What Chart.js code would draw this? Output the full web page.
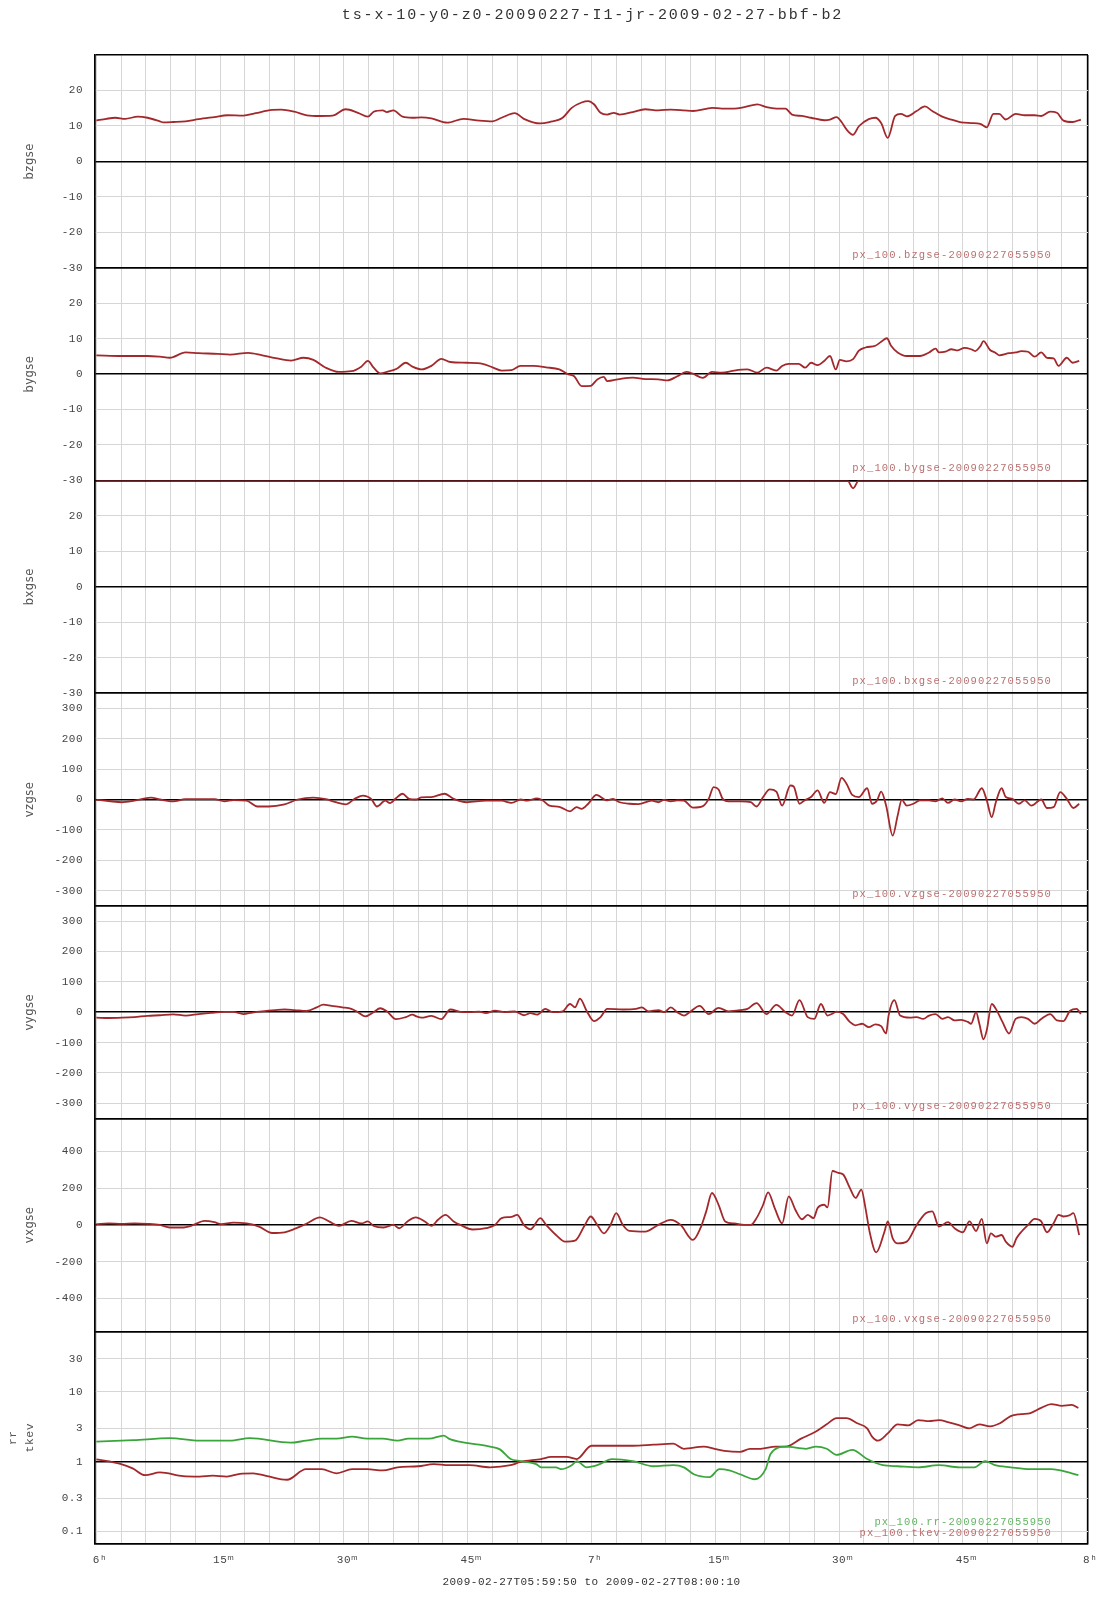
<!DOCTYPE html>
<html><head><meta charset="utf-8">
<script src="https://cdn.jsdelivr.net/npm/chart.js@4/dist/chart.umd.min.js"></script>
<style>html,body{margin:0;padding:0;background:#fff;}#wrap{position:relative;width:1107px;height:1600px;}</style>
</head><body><div id="wrap"><canvas id="c" width="1107" height="1600"></canvas></div>
<script>
// ---- text ----
const titleText = 'ts-x-10-y0-z0-20090227-I1-jr-2009-02-27-bbf-b2';
const footText = '2009-02-27T05:59:50 to 2009-02-27T08:00:10';
const xTickMinutes = [0, 15, 30, 45, 60, 75, 90, 105, 120];
const xTickLabels = [' 6ʰ', ' 15ᵐ', ' 30ᵐ', ' 45ᵐ', ' 7ʰ', ' 15ᵐ', ' 30ᵐ', ' 45ᵐ', ' 8ʰ'];
const panelTitles = ['bzgse', 'bygse', 'bxgse', 'vzgse', 'vygse', 'vxgse', ['rr', 'tkev']];
const bTicks = [-30, -20, -10, 0, 10, 20];
const vTicks = [-300, -200, -100, 0, 100, 200, 300];
const vxTicks = [-400, -200, 0, 200, 400];
const logTicks = [0.1, 0.3, 1, 3, 10, 30];
const logTickLabels = ['0.1', '0.3', '1', '3', '10', '30'];

// ---- data: [minutes after 06:00, value] ----
const bzgse = [[0,11.5],[1.2,12.0],[2.3,12.3],[3.5,12.0],[5.0,12.6],[6.2,12.3],[7.7,11.3],[8.1,11.0],[9.3,11.1],[10.8,11.3],[12.4,11.9],[14.3,12.5],[15.9,13.0],[17.8,12.9],[19.3,13.6],[21.3,14.5],[22.4,14.6],[24.0,14.0],[25.5,13.0],[27.1,12.8],[28.6,12.9],[30.2,14.7],[31.7,13.7],[32.9,12.6],[33.6,14.0],[34.7,14.4],[35.2,13.9],[36.0,14.4],[37.1,12.6],[38.3,12.3],[39.4,12.4],[40.6,12.1],[42.5,10.9],[44.5,12.0],[46.4,11.5],[48.0,11.3],[49.1,12.3],[50.7,13.6],[51.8,12.0],[53.8,10.7],[54.9,11.1],[56.5,12.3],[57.6,15.1],[58.8,16.6],[59.6,17.0],[60.3,16.1],[61.1,13.7],[61.9,13.2],[62.7,13.7],[63.4,13.2],[65.0,13.9],[66.5,14.7],[68.1,14.4],[69.6,14.6],[71.2,14.4],[72.3,14.2],[73.9,14.8],[74.6,15.1],[75.8,14.9],[77.3,14.9],[78.5,15.3],[80.1,16.1],[81.2,15.3],[82.4,14.9],[83.5,14.9],[84.3,13.2],[85.5,12.8],[86.6,12.3],[88.2,11.6],[88.9,11.8],[89.7,12.5],[90.3,11.1],[90.9,9.0],[91.7,7.5],[92.4,9.9],[93.6,11.9],[94.4,12.3],[95.1,10.8],[95.9,6.6],[96.8,12.8],[97.5,13.4],[98.2,12.7],[99.4,14.2],[100.4,15.5],[101.3,14.2],[102.5,12.6],[103.6,11.8],[104.8,11.0],[106.0,10.8],[107.1,10.6],[107.9,9.6],[108.7,13.4],[109.4,13.4],[110.2,11.8],[111.4,13.4],[112.5,13.0],[113.7,13.0],[114.5,12.8],[115.6,14.0],[116.4,13.7],[117.2,11.5],[118.3,11.1],[119.3,11.8]];
const bygse = [[0,5.3],[3.1,5.1],[6.2,5.1],[7.7,4.9],[8.9,4.6],[10.8,6.1],[12.4,5.9],[14.7,5.7],[16.2,5.5],[18.4,6.0],[20.1,5.3],[21.7,4.5],[23.6,3.8],[25.1,4.6],[26.3,4.0],[27.8,1.8],[29.4,0.6],[30.9,0.8],[32.1,2.1],[32.9,3.7],[33.6,1.8],[34.4,0.2],[35.2,0.6],[36.4,1.5],[37.5,3.2],[38.3,2.1],[39.4,1.3],[40.6,2.3],[41.8,4.3],[42.9,3.4],[44.9,3.2],[46.8,2.9],[48.0,1.9],[49.1,1.0],[50.3,1.1],[51.4,2.3],[53.0,2.3],[54.5,1.9],[56.1,1.3],[57.2,-0.1],[57.9,-0.6],[58.8,-3.4],[59.9,-3.3],[60.7,-1.5],[61.5,-0.8],[61.9,-2.0],[63.4,-1.4],[65.0,-1.0],[66.5,-1.4],[68.1,-1.5],[69.2,-1.8],[70.4,-0.6],[71.5,0.6],[72.3,0.1],[73.5,-1.1],[74.6,0.6],[75.8,0.4],[77.3,1.0],[78.9,1.3],[80.1,0.4],[81.2,1.8],[82.4,1.0],[83.1,2.3],[83.9,2.9],[85.1,2.9],[85.9,1.8],[86.6,3.2],[87.4,2.5],[88.2,3.7],[88.9,5.1],[89.6,1.3],[90.1,4.0],[90.9,3.6],[91.7,4.2],[92.4,6.6],[93.2,7.5],[94.4,8.0],[95.1,9.1],[95.8,10.1],[96.3,8.0],[97.1,6.1],[98.2,5.1],[99.8,5.1],[100.9,6.1],[101.7,7.2],[102.1,6.1],[102.9,6.3],[103.6,7.0],[104.4,6.7],[105.2,7.4],[106.0,7.0],[106.5,6.5],[107.1,7.8],[107.5,9.3],[108.3,6.8],[108.9,6.1],[109.4,5.3],[110.6,5.9],[111.4,6.1],[112.1,6.5],[112.9,6.3],[113.7,4.9],[114.5,6.1],[115.2,4.6],[116.0,4.4],[116.6,2.3],[117.6,4.6],[118.3,3.2],[119.1,3.7]];
const bxgse = [[0,30],[91.0,30],[91.7,27.8],[92.4,30],[119.3,30]];
const vzgse = [[0,-1],[1.5,-5],[3.1,-9],[4.6,-4],[6.6,6],[7.7,0],[9.3,-6],[10.8,1],[12.4,1],[14.3,1],[15.5,-6],[16.6,-2],[18.2,-4],[19.5,-23],[20.9,-23],[22.8,-16],[24.4,0],[26.3,6],[27.8,1],[29.0,-9],[30.2,-16],[31.3,2],[32.3,13],[33.3,2],[34.0,-23],[35.0,-4],[35.6,-12],[36.3,4],[37.1,19],[37.9,2],[38.7,0],[39.4,7],[40.6,8],[42.2,19],[43.3,2],[44.9,-9],[47.2,-4],[49.1,-4],[50.3,-11],[51.4,0],[52.2,-4],[53.4,4],[54.1,-3],[54.9,-20],[56.1,-24],[57.4,-39],[58.2,-25],[58.8,-31],[59.6,-14],[60.6,15],[61.9,-3],[62.6,2],[63.4,-9],[64.6,-14],[65.7,-15],[67.3,-4],[68.1,-9],[68.8,-1],[69.6,-6],[70.4,-3],[71.2,-4],[72.3,-27],[73.5,-22],[74.2,2],[74.8,41],[75.4,33],[75.9,2],[76.6,-6],[78.1,-6],[79.3,-9],[80.0,-23],[80.8,8],[81.6,33],[82.4,26],[83.1,-20],[84.1,46],[84.5,43],[85.2,-14],[85.8,-3],[86.6,8],[87.4,30],[88.2,-11],[88.9,24],[89.6,18],[90.3,71],[90.9,52],[91.6,15],[92.4,8],[93.4,37],[94.0,-14],[94.6,-3],[95.1,26],[95.7,-20],[96.5,-119],[97.1,-53],[97.6,-1],[98.2,-20],[99.0,-14],[99.8,-3],[100.9,-3],[101.7,-6],[102.5,4],[103.2,-11],[104.0,0],[104.8,-6],[105.6,2],[106.3,0],[107.3,37],[107.9,-3],[108.5,-58],[109.0,-9],[109.7,37],[110.2,8],[111.0,2],[111.8,-14],[112.5,-3],[113.3,-20],[114.5,0],[115.2,-28],[116.0,-25],[116.8,24],[117.6,2],[118.4,-28],[119.1,-14]];
const vygse = [[0,-18],[1.5,-19],[3.1,-18],[4.6,-16],[6.2,-12],[7.7,-10],[9.3,-7],[10.8,-11],[12.4,-6],[13.9,-2],[15.5,1],[16.6,1],[17.8,-6],[18.9,-1],[20.1,3],[21.7,7],[22.8,9],[24.0,7],[25.5,4],[26.7,16],[27.5,25],[28.5,21],[29.8,16],[30.9,11],[31.7,0],[32.6,-14],[33.6,0],[34.4,13],[35.2,3],[36.3,-23],[37.5,-16],[38.3,-8],[38.8,-14],[39.4,-18],[40.6,-12],[41.8,-23],[42.9,9],[44.1,1],[45.2,0],[46.4,2],[47.2,-3],[48.3,5],[49.5,0],[50.7,3],[51.8,-10],[52.6,-3],[53.4,-8],[54.4,11],[55.3,0],[56.5,3],[57.4,27],[58.0,16],[58.6,45],[59.4,5],[60.3,-29],[61.1,-16],[61.9,11],[63.8,9],[65.4,11],[66.1,16],[66.9,3],[68.1,7],[68.8,0],[69.6,16],[70.4,0],[71.2,-11],[71.9,0],[73.1,21],[74.2,-6],[75.4,14],[76.6,3],[78.1,7],[78.9,11],[80.0,30],[81.2,-6],[82.4,24],[83.5,0],[84.3,-11],[85.2,40],[86.2,-16],[87.0,-22],[87.8,27],[88.6,-11],[89.1,-6],[89.7,2],[90.5,-6],[91.3,-32],[92.0,-43],[92.8,-38],[93.6,-49],[94.4,-40],[95.1,-46],[95.7,-70],[96.0,-11],[96.7,40],[97.4,-11],[98.6,-18],[99.4,-16],[100.2,-22],[100.9,-11],[101.7,-6],[102.5,-22],[103.2,-16],[104.0,-27],[104.8,-25],[105.6,-32],[106.0,-38],[106.6,0],[107.0,-38],[107.5,-89],[107.9,-59],[108.5,27],[109.0,11],[109.8,-32],[110.6,-70],[111.4,-22],[112.1,-16],[112.9,-22],[113.7,-38],[114.5,-22],[115.6,-6],[116.4,-27],[117.2,-29],[118.0,5],[118.8,11],[119.3,-6]];
const vxgse = [[0,4],[1.5,8],[3.1,6],[4.6,8],[6.2,6],[7.7,0],[8.9,-14],[10.4,-14],[11.6,-3],[13.1,22],[14.3,15],[15.1,4],[16.6,13],[18.2,8],[19.7,-9],[21.3,-44],[22.8,-40],[24.0,-22],[25.5,8],[27.1,41],[28.2,19],[29.4,-5],[30.9,22],[32.1,8],[32.9,19],[33.6,-5],[34.8,-14],[36.0,0],[36.7,-18],[37.7,19],[38.7,41],[39.8,19],[40.6,-5],[41.4,28],[42.3,55],[43.3,19],[44.1,0],[45.6,-25],[47.2,-18],[48.3,0],[49.1,37],[50.3,44],[51.0,55],[51.8,0],[52.6,-24],[53.8,37],[54.5,0],[55.7,-55],[56.8,-91],[58.0,-86],[59.2,0],[59.9,46],[60.7,0],[61.5,-46],[62.3,0],[63.0,64],[63.8,0],[64.6,-33],[66.5,-37],[68.1,0],[69.6,28],[70.8,0],[72.3,-82],[73.2,-18],[73.9,74],[74.6,174],[75.4,110],[76.2,19],[77.3,8],[78.5,0],[79.3,0],[80.0,37],[80.8,110],[81.4,178],[82.2,92],[83.1,9],[83.9,156],[84.7,83],[85.5,31],[86.2,55],[86.9,37],[87.4,92],[88.2,110],[88.6,96],[89.2,294],[89.9,284],[90.5,275],[91.3,202],[92.0,147],[92.7,193],[93.2,92],[93.7,-37],[94.5,-150],[95.5,-37],[95.9,19],[96.5,-73],[97.1,-101],[98.2,-91],[99.4,0],[100.5,64],[101.3,74],[102.1,-9],[103.2,15],[104.0,-18],[105.0,-40],[105.8,19],[106.6,-33],[107.3,33],[107.9,-101],[108.4,-46],[109.0,-64],[109.7,-55],[110.2,-91],[111.0,-119],[111.5,-73],[112.1,-37],[112.9,0],[113.7,33],[114.5,19],[115.2,-40],[116.0,9],[116.6,55],[117.2,46],[117.9,52],[118.4,64],[119.1,-55]];
const rr = [[0,1.94],[4.5,2.03],[8.9,2.17],[12.5,2.0],[16.2,2.0],[18.6,2.17],[23.5,1.87],[25.4,2.0],[27.3,2.14],[29.1,2.14],[31.0,2.29],[32.8,2.14],[34.7,2.14],[36.5,2.0],[37.8,2.14],[40.3,2.14],[42.1,2.37],[42.7,2.14],[44.6,1.87],[46.4,1.75],[47.7,1.64],[48.9,1.5],[50.2,1.09],[51.4,1.02],[53.3,0.92],[53.9,0.83],[55.7,0.83],[56.3,0.78],[57.6,0.89],[58.2,1.02],[59.4,0.83],[60.7,0.89],[62.5,1.09],[65.0,1.02],[67.5,0.86],[69.9,0.89],[71.2,0.83],[72.4,0.66],[74.3,0.60],[75.5,0.78],[76.7,0.75],[78.0,0.66],[79.8,0.56],[81.1,0.78],[81.7,1.29],[83.5,1.64],[86.0,1.53],[87.2,1.64],[88.5,1.53],[89.7,1.25],[91.6,1.48],[93.4,1.09],[95.3,0.89],[97.1,0.86],[99.6,0.83],[102.1,0.89],[104.6,0.83],[106.4,0.83],[107.7,1.02],[108.9,0.89],[110.8,0.83],[113.2,0.78],[115.7,0.78],[118.2,0.68],[119.0,0.64]];
const tkev = [[0,1.08],[2.9,0.93],[4.4,0.80],[5.9,0.64],[7.7,0.70],[10.5,0.62],[12.5,0.61],[14.1,0.63],[15.8,0.61],[17.4,0.67],[19.0,0.68],[20.7,0.62],[23.1,0.55],[25.4,0.78],[27.3,0.78],[29.1,0.68],[31.0,0.78],[32.8,0.78],[34.7,0.75],[36.5,0.83],[39.0,0.86],[40.9,0.92],[42.7,0.89],[45.2,0.89],[47.7,0.83],[50.2,0.89],[51.4,0.99],[53.9,1.09],[55.1,1.17],[57.0,1.17],[58.2,1.09],[60.0,1.69],[62.5,1.69],[65.0,1.69],[67.5,1.75],[69.9,1.81],[71.2,1.53],[73.6,1.64],[74.9,1.53],[76.1,1.43],[78.0,1.38],[79.2,1.53],[80.5,1.53],[82.3,1.64],[83.5,1.64],[85.4,2.14],[87.2,2.71],[88.5,3.43],[89.7,4.2],[90.9,4.2],[92.2,3.55],[93.4,3.0],[94.0,2.29],[94.7,2.0],[95.9,2.54],[97.1,3.43],[98.4,3.32],[99.6,3.93],[100.9,3.8],[102.1,3.93],[103.3,3.67],[104.6,3.32],[105.8,3.0],[107.0,3.43],[108.3,3.21],[109.5,3.55],[110.8,4.5],[112.0,4.8],[113.2,4.98],[114.5,5.9],[115.7,6.7],[117.0,6.3],[118.2,6.5],[119.0,5.9]];

// ---- styling / layout ----
const RED = '#a3282c', GREEN = '#3aa53a';
const LEG_RED = 'rgb(185,112,112)', LEG_GREEN = 'rgb(100,180,100)';
const xMin = -10 / 60, xMax = 120 + 10 / 60;
const xGrid = [xMin];
for (let m = 0; m <= 120; m += 3) xGrid.push(m);
xGrid.push(xMax);

const monoTick = { family: '"Liberation Mono", monospace', size: 11 };
const panels = [
  { id: 'y0', type: 'linear', min: -30, max: 30, ticks: bTicks, labels: bTicks.map(String), series: [{ data: bzgse, color: RED }], legends: [{ text: 'px_100.bzgse-20090227055950', color: LEG_RED, off: 12 }] },
  { id: 'y1', type: 'linear', min: -30, max: 30, ticks: bTicks, labels: bTicks.map(String), series: [{ data: bygse, color: RED }], legends: [{ text: 'px_100.bygse-20090227055950', color: LEG_RED, off: 12 }] },
  { id: 'y2', type: 'linear', min: -30, max: 30, ticks: bTicks, labels: bTicks.map(String), series: [{ data: bxgse, color: RED }], legends: [{ text: 'px_100.bxgse-20090227055950', color: LEG_RED, off: 12 }] },
  { id: 'y3', type: 'linear', min: -350, max: 350, ticks: vTicks, labels: vTicks.map(String), series: [{ data: vzgse, color: RED }], legends: [{ text: 'px_100.vzgse-20090227055950', color: LEG_RED, off: 12 }] },
  { id: 'y4', type: 'linear', min: -350, max: 350, ticks: vTicks, labels: vTicks.map(String), series: [{ data: vygse, color: RED }], legends: [{ text: 'px_100.vygse-20090227055950', color: LEG_RED, off: 12 }] },
  { id: 'y5', type: 'linear', min: -580, max: 580, ticks: vxTicks, labels: vxTicks.map(String), series: [{ data: vxgse, color: RED }], legends: [{ text: 'px_100.vxgse-20090227055950', color: LEG_RED, off: 12 }] },
  { id: 'y6', type: 'logarithmic', min: 0.066, max: 74, ticks: logTicks, labels: logTickLabels, series: [{ data: rr, color: GREEN }, { data: tkev, color: RED }], legends: [{ text: 'px_100.rr-20090227055950', color: LEG_GREEN, off: 22 }, { text: 'px_100.tkev-20090227055950', color: LEG_RED, off: 11 }] }
];

const scales = {
  x: {
    type: 'linear', position: 'bottom', min: xMin, max: xMax, bounds: 'data',
    afterBuildTicks: s => { s.ticks = xGrid.map(v => ({ value: v })); },
    afterFit: s => { s.height = 56; s.paddingLeft = 0; s.paddingRight = 0; },
    ticks: {
      autoSkip: false, maxRotation: 0, minRotation: 0, padding: 9, color: '#444', font: monoTick,
      callback: v => { const i = xTickMinutes.indexOf(v); return i >= 0 ? xTickLabels[i] : ''; }
    },
    grid: {
      drawTicks: false,
      color: c => (c.tick && (c.tick.value === xMin || c.tick.value === xMax)) ? '#000' : '#d6d6d6',
      lineWidth: c => (c.tick && (c.tick.value === xMin || c.tick.value === xMax)) ? 1.5 : 1
    },
    border: { display: true, color: '#000', width: 1.5 },
    title: { display: true, text: footText, color: '#333', font: { family: '"Liberation Mono", monospace', size: 11 }, padding: { top: 0, bottom: 11.5 } }
  }
};

panels.forEach((p, i) => {
  const isLog = p.type === 'logarithmic';
  const all = Array.from(new Set([p.min, ...p.ticks, p.max])).sort((a, b) => a - b);
  const isBlack = v => v === p.min || v === p.max || v === (isLog ? 1 : 0);
  const multi = Array.isArray(panelTitles[i]);
  scales[p.id] = {
    type: p.type, position: 'left', stack: 'panels', stackWeight: 1, weight: 10 - i,
    min: p.min, max: p.max, bounds: 'data',
    afterBuildTicks: s => { s.ticks = all.map(v => ({ value: v })); },
    afterFit: s => { s.width = 95; s.paddingTop = 0; s.paddingBottom = 0; },
    ticks: {
      autoSkip: false, padding: 12, color: '#444', font: monoTick,
      callback: v => { const k = p.ticks.indexOf(v); return k >= 0 ? p.labels[k] : ''; }
    },
    grid: {
      drawTicks: false,
      color: c => isBlack(c.tick.value) ? '#000' : '#d6d6d6',
      lineWidth: c => isBlack(c.tick.value) ? 1.5 : 1
    },
    border: { display: true, color: '#000', width: 1.5 },
    title: multi
      ? { display: true, text: panelTitles[i], color: '#555', font: { family: '"Liberation Mono", monospace', size: 11.5, lineHeight: 1.5 }, padding: { top: 4.5, bottom: 0 } }
      : { display: true, text: panelTitles[i], color: '#555', font: { family: '"DejaVu Sans", sans-serif', size: 11.5 }, padding: { top: 23, bottom: 0 } }
  };
});

const datasets = [];
panels.forEach(p => p.series.forEach(s => datasets.push({
  data: s.data.map(d => ({ x: d[0], y: d[1] })),
  yAxisID: p.id, xAxisID: 'x',
  borderColor: s.color, borderWidth: 1.8, pointRadius: 0, fill: false,
  cubicInterpolationMode: 'monotone'
})));

const textPlugin = {
  id: 'texts',
  beforeDraw(chart) { chart.ctx.letterSpacing = '0.5px'; },
  afterDraw(chart) {
    const ctx = chart.ctx, a = chart.chartArea;
    ctx.save();
    ctx.letterSpacing = '1.9px';
    ctx.font = '15px "Liberation Mono", monospace';
    ctx.fillStyle = '#333';
    ctx.textAlign = 'center';
    ctx.textBaseline = 'middle';
    ctx.fillText(titleText, (a.left + a.right) / 2 + 1, 15);
    ctx.letterSpacing = '1.1px';
    ctx.font = '10.5px "Liberation Mono", monospace';
    ctx.textAlign = 'right';
    panels.forEach(p => {
      const s = chart.scales[p.id];
      p.legends.forEach(lg => { ctx.fillStyle = lg.color; ctx.fillText(lg.text, 1052, s.bottom - lg.off); });
    });
    ctx.restore();
    ctx.letterSpacing = '0px';
  }
};

new Chart(document.getElementById('c'), {
  type: 'line',
  data: { datasets },
  options: {
    responsive: false, animation: false, devicePixelRatio: 1,
    parsing: true, normalized: true,
    layout: { padding: { top: 55, right: 19, bottom: 0, left: 0 } },
    plugins: { legend: { display: false }, title: { display: false }, tooltip: { enabled: false } },
    scales
  },
  plugins: [textPlugin]
});
</script></body></html>
